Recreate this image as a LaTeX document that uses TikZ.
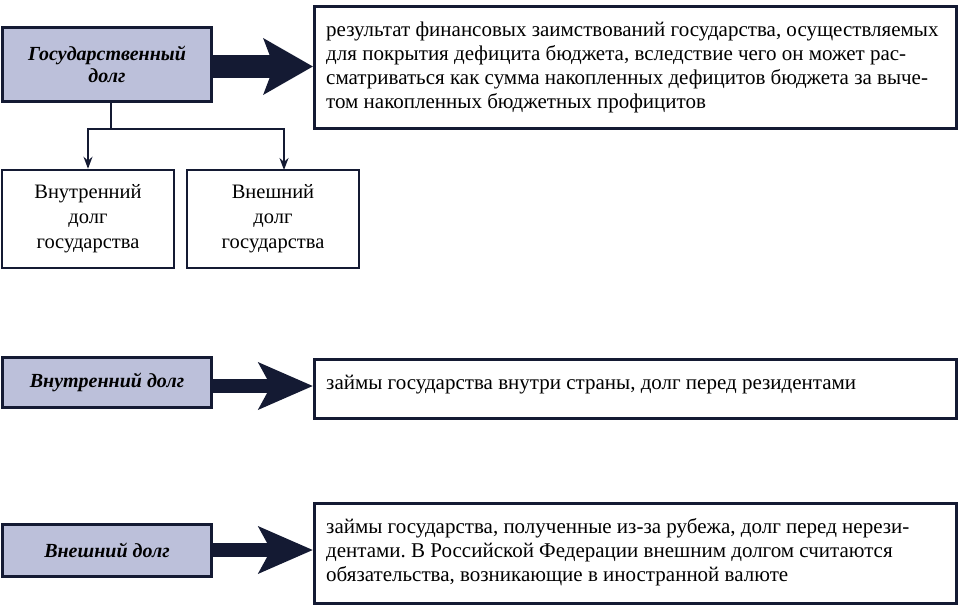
\documentclass[tikz,border=0pt]{standalone}
\usepackage{fontspec}
\setmainfont{Liberation Serif}
\usetikzlibrary{arrows.meta}
\frenchspacing
\definecolor{navy}{HTML}{141A33}
\definecolor{boxfill}{HTML}{BCC0DA}
\tikzset{
  term/.style={draw=navy, line width=3pt, fill=boxfill, inner sep=0pt, font=\fontsize{20}{22}\selectfont\bfseries\itshape, align=center},
  defbox/.style={draw=navy, line width=2.5pt, fill=white, inner sep=0pt, anchor=north west},
  deftext/.style={anchor=west, inner sep=0pt, font=\fontsize{21}{24}\selectfont, align=left},
  subbox/.style={draw=navy, line width=2.5pt, fill=white, inner sep=0pt, font=\fontsize{20.5}{25}\selectfont, align=center},
  fat/.style={draw=navy, line width=23pt, -{Stealth[length=49pt, width=55pt, inset=10pt]}},
  fatsmall/.style={draw=navy, line width=14pt, -{Stealth[length=54pt, width=46pt, inset=12pt]}},
  thin/.style={draw=navy, line width=1.6pt},
  thinarrow/.style={thin, -{Stealth[length=12pt, width=9pt]}}
}
\begin{document}
\begin{tikzpicture}[x=1pt, y=-1pt]
\useasboundingbox (0,0) rectangle (960,608);
% row 1
\node[term, minimum width=209pt, minimum height=74pt] (g) at (107,64) {Государственный\\долг};
\node[defbox, minimum width=642pt, minimum height=122pt] (gd) at (313,5) {};
\node[deftext] (gdt) at (326,67) {результат финансовых заимствований государства, осуществляемых\\для покрытия дефицита бюджета, вследствие чего он может рас-\\сматриваться как сумма накопленных дефицитов бюджета за выче-\\том накопленных бюджетных профицитов};
\draw[fat] (g.east |- 0,66.5) -- (gd.west |- 0,66.5);
% sub boxes
\node[subbox, minimum width=172pt, minimum height=98pt] (vn) at (88,219) {Внутренний\\долг\\государства};
\node[subbox, minimum width=172pt, minimum height=98pt] (ex) at (273,219) {Внешний\\долг\\государства};
\coordinate (split) at (111,129);
\coordinate (exin) at (284,170);
\draw[thin] (g.south -| split) -- (split);
\draw[thinarrow] (split) -| (vn.north);
\draw[thinarrow] (split) -| (exin);
% row 2
\node[term, minimum width=209pt, minimum height=50pt] (vd) at (107,382) {Внутренний долг};
\node[defbox, minimum width=642pt, minimum height=59pt] (vdd) at (313,358) {};
\node[deftext] (vddt) at (326,385) {займы государства внутри страны, долг перед резидентами};
\draw[fatsmall] (vd.east |- 0,386) -- (vdd.west |- 0,386);
% row 3
\node[term, minimum width=209pt, minimum height=52pt] (ed) at (107,550) {Внешний долг};
\node[defbox, minimum width=642pt, minimum height=100pt] (edd) at (313,502) {};
\node[deftext] (eddt) at (326,552) {займы государства, полученные из-за рубежа, долг перед нерези-\\дентами. В Российской Федерации внешним долгом считаются\\обязательства, возникающие в иностранной валюте};
\draw[fatsmall] (ed.east |- 0,550) -- (edd.west |- 0,550);
\end{tikzpicture}
\end{document}
